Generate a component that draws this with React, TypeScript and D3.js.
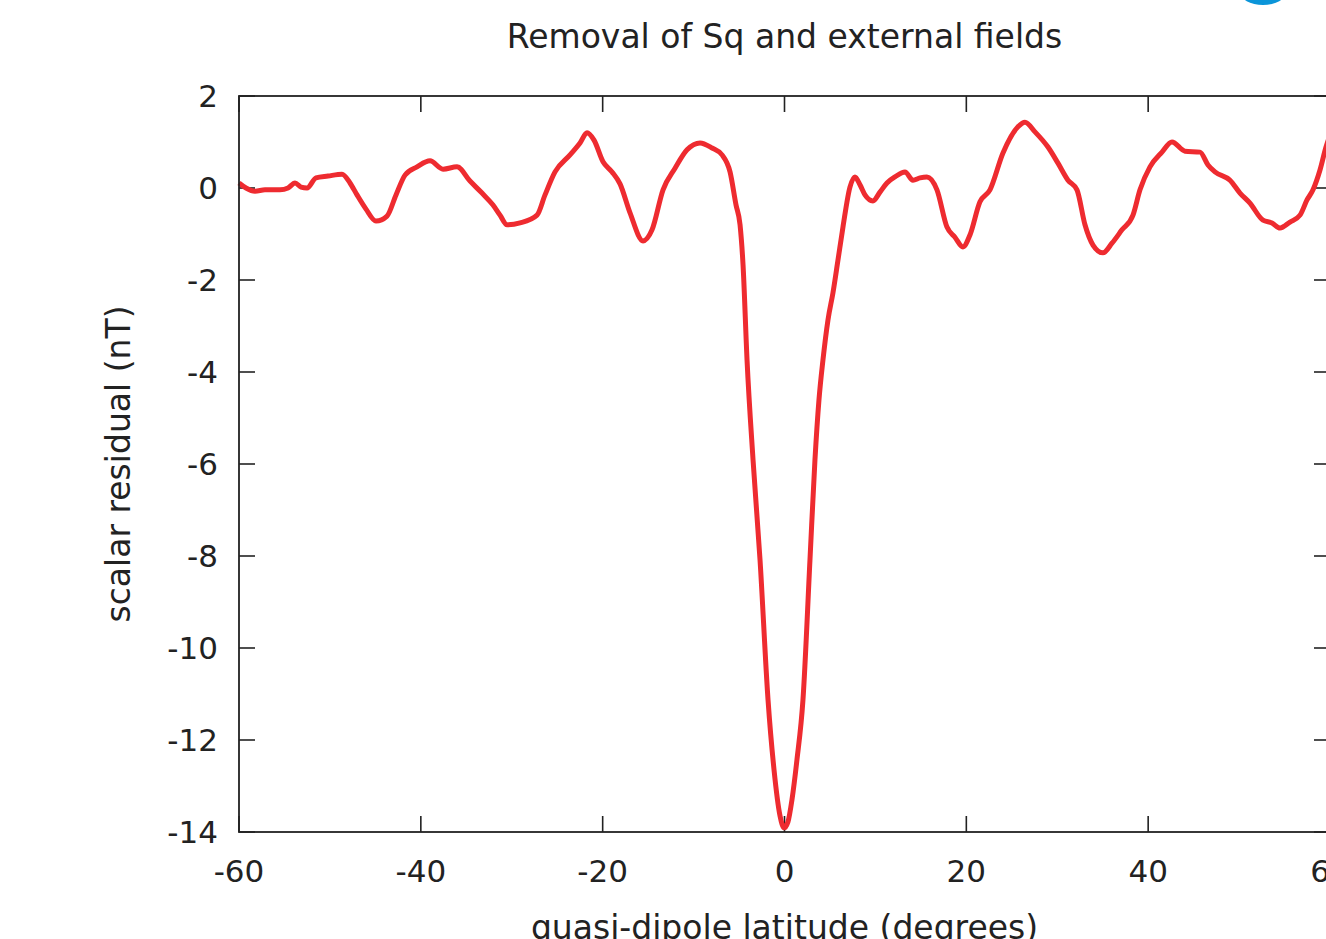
import * as d3 from "d3";
import { useEffect, useRef } from "react";

// quasi-dipole latitude (degrees) and scalar residual (nT)
const latitude = [
  -60.0, -59.23, -58.24, -57.14, -55.49, -54.61, -53.84, -53.18, -52.52, -51.53,
  -50.21, -48.67, -47.79, -47.02, -46.03, -44.93, -43.72, -42.73, -41.74, -40.42,
  -38.99, -37.56, -36.02, -34.59, -33.27, -32.06, -31.29, -30.52, -29.09, -27.22,
  -26.34, -25.24, -23.59, -22.49, -21.72, -20.95, -19.96, -18.97, -18.09, -16.99,
  -15.56, -14.57, -13.36, -12.04, -10.72, -9.29, -7.97, -6.87, -5.99, -5.33,
  -4.89, -4.56, -4.12, -3.46, -2.69, -1.81, -1.15, -0.49, -0.05, 0.38,
  0.82, 1.37, 2.03, 2.8, 3.35, 3.79, 4.23, 4.78, 5.33, 5.88,
  6.43, 7.2, 7.75, 8.3, 8.85, 9.73, 10.5, 11.27, 12.15, 13.25,
  14.13, 14.9, 15.67, 16.77, 17.87, 18.75, 19.63, 20.4, 21.5, 22.6,
  24.03, 25.68, 26.45, 27.55, 28.98, 30.08, 31.18, 32.17, 33.05, 33.93,
  35.03, 36.02, 37.12, 38.33, 39.1, 40.2, 41.52, 42.62, 44.05, 45.7,
  46.58, 47.35, 49.0, 50.1, 51.2, 52.63, 53.62, 54.5, 55.6, 56.7,
  57.47, 58.13, 58.9, 59.56, 60.0,
];
const residual = [
  0.11, 0.0, -0.07, -0.04, -0.04, 0.0, 0.11, 0.02, 0.0, 0.22,
  0.26, 0.3, 0.11, -0.15, -0.46, -0.72, -0.61, -0.15, 0.28, 0.46,
  0.59, 0.41, 0.46, 0.15, -0.11, -0.37, -0.59, -0.8, -0.76, -0.59,
  -0.15, 0.35, 0.72, 0.98, 1.2, 1.04, 0.57, 0.35, 0.09, -0.54,
  -1.15, -0.91, -0.04, 0.43, 0.83, 0.98, 0.87, 0.72, 0.35, -0.37,
  -0.8, -1.67, -3.74, -5.91, -8.09, -11.13, -12.65, -13.65, -13.91, -13.78,
  -13.3, -12.43, -11.13, -8.09, -5.91, -4.61, -3.74, -2.87, -2.28, -1.57,
  -0.85, 0.02, 0.24, 0.07, -0.15, -0.28, -0.09, 0.11, 0.24, 0.35,
  0.17, 0.22, 0.24, -0.04, -0.85, -1.07, -1.28, -1.02, -0.3, -0.04,
  0.76, 1.33, 1.43, 1.22, 0.89, 0.54, 0.17, -0.04, -0.8, -1.24,
  -1.41, -1.2, -0.91, -0.59, -0.04, 0.46, 0.78, 1.0, 0.8, 0.78,
  0.5, 0.35, 0.17, -0.11, -0.33, -0.7, -0.76, -0.87, -0.74, -0.59,
  -0.26, -0.04, 0.39, 0.89, 1.15,
];
const xTicks = [-60, -40, -20, 0, 20, 40, 60];
const yTicks = [2, 0, -2, -4, -6, -8, -10, -12, -14];

const App = () => {
  const ref = useRef<SVGSVGElement | null>(null);

  useEffect(() => {
    const svg = d3.select(ref.current);
    svg.selectChildren().remove();

    const width = 1326;
    const height = 939;
    const left = 239, right = 1330, top = 96, bottom = 832;
    const font = "'DejaVu Sans', sans-serif";
    const ink = "#222";
    const tick = 16;

    const x = d3.scaleLinear().domain([-60, 60]).range([left, right]);
    const y = d3.scaleLinear().domain([-14, 2]).range([bottom, top]);

    svg.attr("width", width).attr("height", height);

    // odd blue blob in the top right corner of the screenshot
    svg.append("ellipse")
      .attr("cx", 1263).attr("cy", -8).attr("rx", 23).attr("ry", 13)
      .attr("fill", "#0b95d9");

    // title
    svg.append("text")
      .attr("x", x(0)).attr("y", 48)
      .attr("text-anchor", "middle")
      .attr("font-family", font).attr("font-size", 33)
      .attr("fill", ink)
      .text("Removal of Sq and external fields");

    // ticks, mirrored on all four sides like gnuplot does
    const g = svg.append("g").attr("stroke", ink).attr("stroke-width", 1.6);
    xTicks.forEach(t => {
      g.append("line").attr("x1", x(t)).attr("x2", x(t)).attr("y1", bottom).attr("y2", bottom - tick);
      g.append("line").attr("x1", x(t)).attr("x2", x(t)).attr("y1", top).attr("y2", top + tick);
    });
    yTicks.forEach(t => {
      g.append("line").attr("x1", left).attr("x2", left + tick).attr("y1", y(t)).attr("y2", y(t));
      g.append("line").attr("x1", right).attr("x2", right - tick).attr("y1", y(t)).attr("y2", y(t));
    });

    svg.append("g")
      .selectAll("text")
      .data(xTicks)
      .join("text")
      .attr("x", d => x(d))
      .attr("y", 882)
      .attr("text-anchor", "middle")
      .attr("font-family", font).attr("font-size", 31)
      .attr("fill", ink)
      .text(d => d);

    svg.append("g")
      .selectAll("text")
      .data(yTicks)
      .join("text")
      .attr("x", 218)
      .attr("y", d => y(d))
      .attr("dy", "0.36em")
      .attr("text-anchor", "end")
      .attr("font-family", font).attr("font-size", 31)
      .attr("fill", ink)
      .text(d => d);

    // axis titles
    svg.append("text")
      .attr("transform", `translate(130, ${(top + bottom) / 2}) rotate(-90)`)
      .attr("text-anchor", "middle")
      .attr("font-family", font).attr("font-size", 33)
      .attr("fill", ink)
      .text("scalar residual (nT)");

    svg.append("text")
      .attr("x", x(0)).attr("y", 939)
      .attr("text-anchor", "middle")
      .attr("font-family", font).attr("font-size", 33)
      .attr("fill", ink)
      .text("quasi-dipole latitude (degrees)");

    // the residual curve
    const data = latitude.map((lat, i) => ({ lat, v: residual[i] }));
    svg.append("path")
      .datum(data)
      .attr("fill", "none")
      .attr("stroke", "#ee2b30")
      .attr("stroke-width", 5)
      .attr("stroke-linejoin", "round")
      .attr("d", d3.line<{ lat: number; v: number }>()
        .x(d => x(d.lat))
        .y(d => y(d.v))
        .curve(d3.curveMonotoneX));

    // border
    svg.append("rect")
      .attr("x", left).attr("y", top)
      .attr("width", right - left).attr("height", bottom - top)
      .attr("fill", "none")
      .attr("stroke", ink)
      .attr("stroke-width", 1.8);
  });

  return (
    <svg ref={ref} style={{ position: "absolute", left: 0, top: 0, display: "block", background: "#fff" }} />
  );
};

export default App;
